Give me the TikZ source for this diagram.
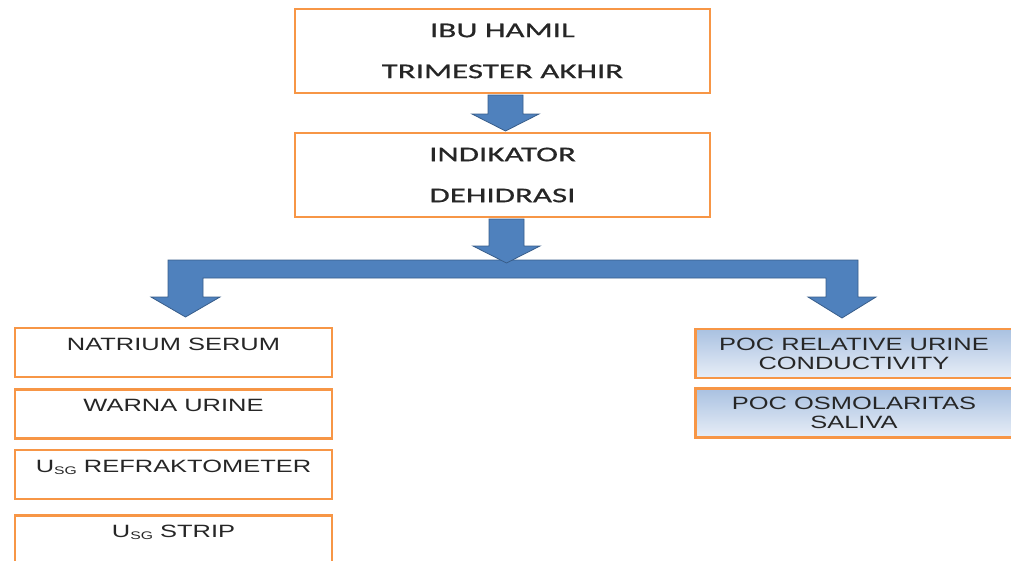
\documentclass[tikz,border=0pt]{standalone}
\usepackage{fontspec}
\usetikzlibrary{positioning, calc}
\newfontfamily\calfont[FakeStretch=1.57, FakeBold=0.6]{Carlito}
\newfontfamily\arfont[FakeStretch=1.43]{Liberation Sans}
\definecolor{boxorange}{HTML}{F79646}
\definecolor{arrowblue}{HTML}{4F81BD}
\definecolor{arrowedge}{HTML}{385D8A}
\definecolor{poctop}{HTML}{A9C1E1}
\definecolor{pocbottom}{HTML}{E8EEF7}
\newcommand{\usg}{U\raisebox{-2pt}{\fontsize{11}{11}\selectfont SG}}

\begin{document}
\begin{tikzpicture}[x=1pt, y=-1pt,
    mainbox/.style={draw=boxorange, line width=2pt, fill=white, minimum width=415pt, minimum height=84pt, inner sep=2pt, align=center, font=\calfont\fontsize{21}{41}\selectfont, text=black!85},
    listbox/.style={draw=boxorange, line width=2.5pt, fill=white, minimum width=317pt, minimum height=49pt, inner sep=2pt, align=center, font=\arfont\fontsize{17.8}{19}\selectfont, text=black!85},
    pocbox/.style={listbox, top color=poctop, bottom color=pocbottom},
    blockarrow/.style={fill=arrowblue, draw=arrowedge, line width=0.8pt, line join=miter}
]
\useasboundingbox (0,0) rectangle (1011,560);

% kotak utama
\node[mainbox] (ibu) at (502.5,51) {IBU HAMIL\\TRIMESTER AKHIR};
\node[mainbox] (indikator) at (502.5,175) {INDIKATOR\\DEHIDRASI};

% indikator konvensional
\node[listbox] (natrium) at (173.5,352.5) {NATRIUM SERUM\\[-8pt]\strut};
\node[listbox] (warna) at (173.5,414) {WARNA URINE\\[-8pt]\strut};
\node[listbox] (refrakto) at (173.5,474.5) {\usg{} REFRAKTOMETER\\[-8pt]\strut};
\node[listbox] (strip) at (173.5,540) {\usg{} STRIP\\[-8pt]\strut};

% indikator POC
\node[pocbox] (conduct) at (854,353.5) {POC RELATIVE URINE\\CONDUCTIVITY};
\node[pocbox] (saliva) at (854,413) {POC OSMOLARITAS\\SALIVA};

% panah
\draw[blockarrow] ($(ibu.south)+(-14.5,1)$) -- ++(35,0) -- ++(0,19) -- ++(16,0) -- ++(-33.5,17) -- ++(-33.5,-17) -- ++(16,0) -- cycle;

\coordinate (barL) at (168,260);
\coordinate (barR) at (858,260);
\draw[blockarrow] (barL) -- (barR) -- ++(0,37) -- ++(18,0) -- ++(-34,21) -- ++(-34,-21) -- ++(18,0) -- ++(0,-19)
    -- ++(-623,0) -- ++(0,19) -- ++(17,0) -- ++(-34.5,20) -- ++(-34.5,-20) -- ++(17,0) -- cycle;

\draw[blockarrow] ($(indikator.south)+(-13.5,1)$) -- ++(35,0) -- ++(0,27) -- ++(16,0) -- ++(-33.5,17) -- ++(-33.5,-17) -- ++(16,0) -- cycle;

\end{tikzpicture}
\end{document}
